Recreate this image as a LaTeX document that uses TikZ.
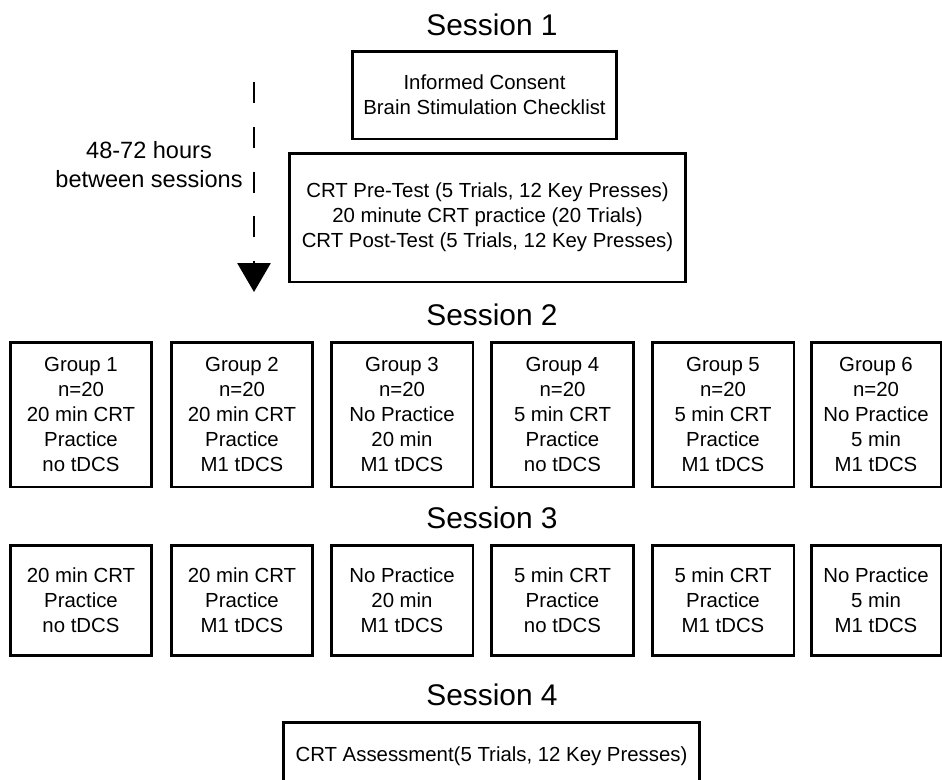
\documentclass[tikz,border=0pt]{standalone}
\usepackage{fontspec}
\setmainfont{Liberation Sans}
\usetikzlibrary{arrows.meta}

\begin{document}
\begin{tikzpicture}[x=0.02cm, y=-0.02cm,
    box/.style={draw, line width=1.7pt, align=center, inner sep=0pt,
        font=\fontsize{11.6}{14.2}\selectfont},
    title/.style={anchor=base, inner sep=0pt, font=\fontsize{17}{20}\selectfont}]
    \useasboundingbox (0,0) rectangle (942,779);
    \clip (0,0) rectangle (942,779);

    % Session 1
    \node[title] (s1) at (492,35) {Session 1};
    \node[box, minimum width=5.3cm, minimum height=1.76cm] (consent) at (484.5,95)
        {Informed Consent\\Brain Stimulation Checklist};
    \node[box, minimum width=7.94cm, minimum height=2.58cm] (pretest) at (487.5,217.5)
        {CRT Pre-Test (5 Trials, 12 Key Presses)\\20 minute CRT practice (20 Trials)\\CRT Post-Test (5 Trials, 12 Key Presses)};

    % tempo tra le sessioni
    \coordinate (arrtop) at (254,82);
    \coordinate (arrbot) at (254,292);
    \draw[line width=1.7pt, dash pattern=on 11.9pt off 13.6pt,
        -{Triangle[width=0.66cm, length=0.58cm]}] (arrtop) -- (arrbot);
    \node[align=center, inner sep=0pt, font=\fontsize{13.4}{16.5}\selectfont] (hours) at (149,165)
        {48-72 hours\\between sessions};

    % Session 2
    \node[title] (s2) at (492,325) {Session 2};
    \foreach \x/\w/\txt [count=\i] in {
        81/2.84cm/{Group 1\\n=20\\20 min CRT\\Practice\\no tDCS},
        242/2.84cm/{Group 2\\n=20\\20 min CRT\\Practice\\M1 tDCS},
        402/2.84cm/{Group 3\\n=20\\No Practice\\20 min\\M1 tDCS},
        562.5/2.84cm/{Group 4\\n=20\\5 min CRT\\Practice\\no tDCS},
        723/2.84cm/{Group 5\\n=20\\5 min CRT\\Practice\\M1 tDCS},
        876/2.6cm/{Group 6\\n=20\\No Practice\\5 min\\M1 tDCS}} {
        \node[box, minimum width=\w, minimum height=2.9cm] (g\i) at (\x,414.5) {\txt};
    }

    % Session 3
    \node[title] (s3) at (492,528) {Session 3};
    \foreach \x/\w/\txt [count=\i] in {
        81/2.84cm/{20 min CRT\\Practice\\no tDCS},
        242/2.84cm/{20 min CRT\\Practice\\M1 tDCS},
        402/2.84cm/{No Practice\\20 min\\M1 tDCS},
        562.5/2.84cm/{5 min CRT\\Practice\\no tDCS},
        723/2.84cm/{5 min CRT\\Practice\\M1 tDCS},
        876/2.6cm/{No Practice\\5 min\\M1 tDCS}} {
        \node[box, minimum width=\w, minimum height=2.2cm] (p\i) at (\x,600) {\txt};
    }

    % Session 4
    \node[title] (s4) at (492,705) {Session 4};
    \node[box, anchor=base, minimum width=8.34cm, text height=0.78cm, text depth=1.2cm]
        (assess) at (491.5,761) {CRT Assessment(5 Trials, 12 Key Presses)};
\end{tikzpicture}
\end{document}
